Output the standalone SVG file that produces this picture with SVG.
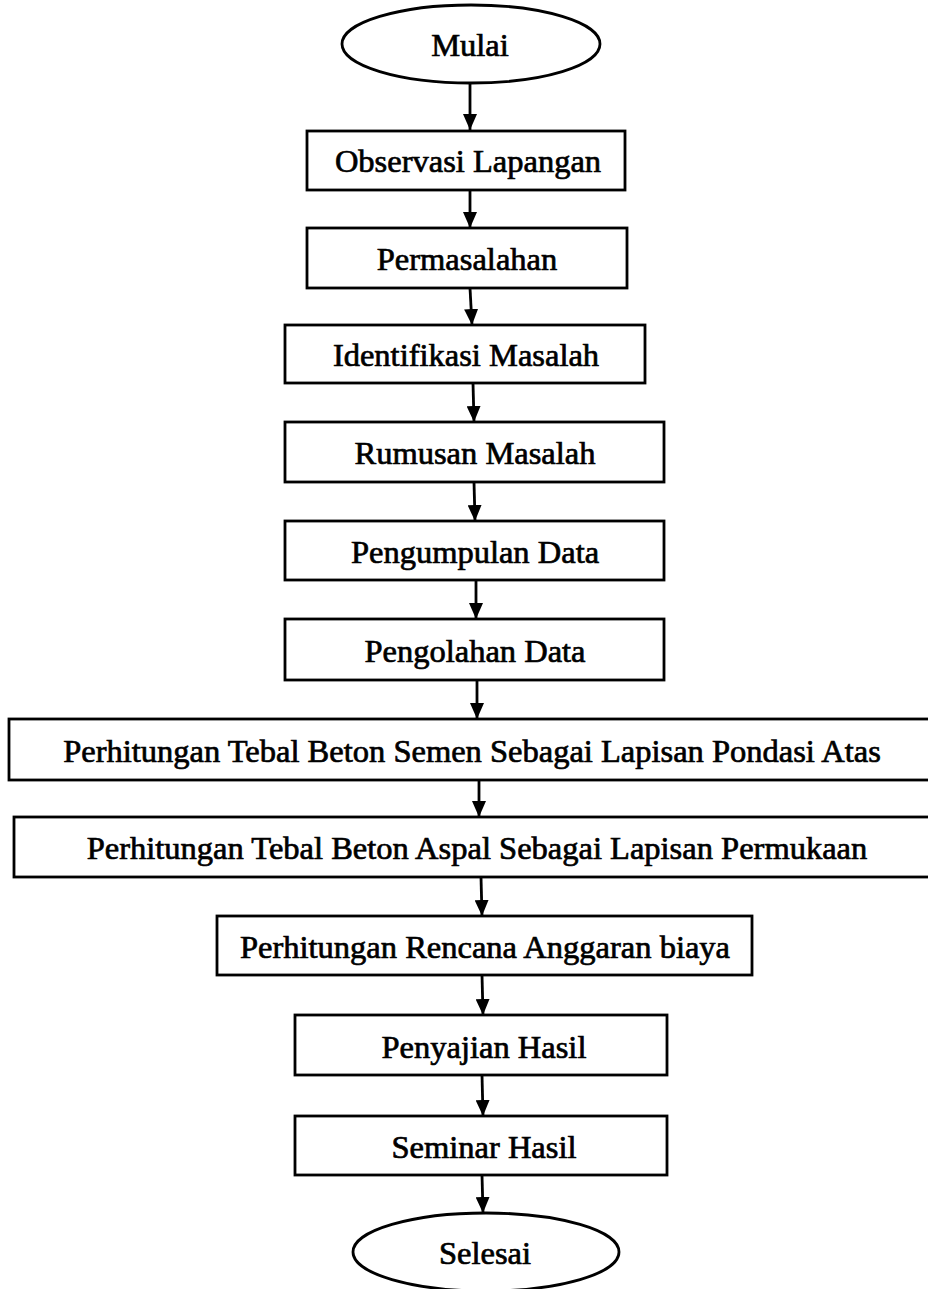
<svg xmlns="http://www.w3.org/2000/svg" width="928" height="1289" viewBox="0 0 928 1289">
<style>
.n{fill:#fff;stroke:#000;stroke-width:2.8}
.t{font-family:"Liberation Serif","Times New Roman",serif;font-size:32.5px;fill:#000;stroke:#000;stroke-width:0.7;text-anchor:middle}
.c{stroke:#000;stroke-width:2.8;fill:none}
</style>
<defs>
<marker id="ah" viewBox="0 0 16 14" refX="16" refY="7" markerWidth="16" markerHeight="14" markerUnits="userSpaceOnUse" orient="auto">
<path d="M0,0 L16,7 L0,14 Z" fill="#000"/>
</marker>
</defs>
<rect width="928" height="1289" fill="#fff"/>
<g id="connectors">
<line class="c" x1="470" y1="83" x2="470" y2="130" marker-end="url(#ah)"/>
<line class="c" x1="470" y1="190" x2="470" y2="228" marker-end="url(#ah)"/>
<line class="c" x1="470" y1="288" x2="472" y2="325" marker-end="url(#ah)"/>
<line class="c" x1="473" y1="383" x2="474" y2="422" marker-end="url(#ah)"/>
<line class="c" x1="474" y1="482" x2="475" y2="521" marker-end="url(#ah)"/>
<line class="c" x1="476" y1="580" x2="476" y2="619" marker-end="url(#ah)"/>
<line class="c" x1="477" y1="680" x2="477" y2="719" marker-end="url(#ah)"/>
<line class="c" x1="479" y1="780" x2="479" y2="817" marker-end="url(#ah)"/>
<line class="c" x1="481" y1="877" x2="482" y2="916" marker-end="url(#ah)"/>
<line class="c" x1="482" y1="975" x2="483" y2="1015" marker-end="url(#ah)"/>
<line class="c" x1="482" y1="1075" x2="483" y2="1116" marker-end="url(#ah)"/>
<line class="c" x1="482" y1="1175" x2="483" y2="1213" marker-end="url(#ah)"/>
</g>
<g id="mulai"><ellipse class="n" cx="471" cy="44" rx="129" ry="39"/><text class="t" x="470" y="56">Mulai</text></g>
<g id="observasi"><rect class="n" x="307" y="131" width="318" height="59"/><text class="t" x="468" y="172">Observasi Lapangan</text></g>
<g id="permasalahan"><rect class="n" x="307" y="228" width="320" height="60"/><text class="t" x="467" y="270">Permasalahan</text></g>
<g id="identifikasi"><rect class="n" x="285" y="325" width="360" height="58"/><text class="t" x="466" y="366">Identifikasi Masalah</text></g>
<g id="rumusan"><rect class="n" x="285" y="422" width="379" height="60"/><text class="t" x="475" y="464">Rumusan Masalah</text></g>
<g id="pengumpulan"><rect class="n" x="285" y="521" width="379" height="59"/><text class="t" x="475" y="563">Pengumpulan Data</text></g>
<g id="pengolahan"><rect class="n" x="285" y="619" width="379" height="61"/><text class="t" x="475" y="662">Pengolahan Data</text></g>
<g id="semen"><rect class="n" x="9" y="719" width="925" height="61"/><text class="t" x="472" y="762">Perhitungan Tebal Beton Semen Sebagai Lapisan Pondasi Atas</text></g>
<g id="aspal"><rect class="n" x="14" y="817" width="920" height="60"/><text class="t" x="477" y="859">Perhitungan Tebal Beton Aspal Sebagai Lapisan Permukaan</text></g>
<g id="rencana"><rect class="n" x="217" y="916" width="535" height="59"/><text class="t" x="485" y="958">Perhitungan Rencana Anggaran biaya</text></g>
<g id="penyajian"><rect class="n" x="295" y="1015" width="372" height="60"/><text class="t" x="484" y="1058">Penyajian Hasil</text></g>
<g id="seminar"><rect class="n" x="295" y="1116" width="372" height="59"/><text class="t" x="484" y="1158">Seminar Hasil</text></g>
<g id="selesai"><ellipse class="n" cx="486" cy="1252" rx="133" ry="39"/><text class="t" x="485" y="1264">Selesai</text></g>
</svg>
